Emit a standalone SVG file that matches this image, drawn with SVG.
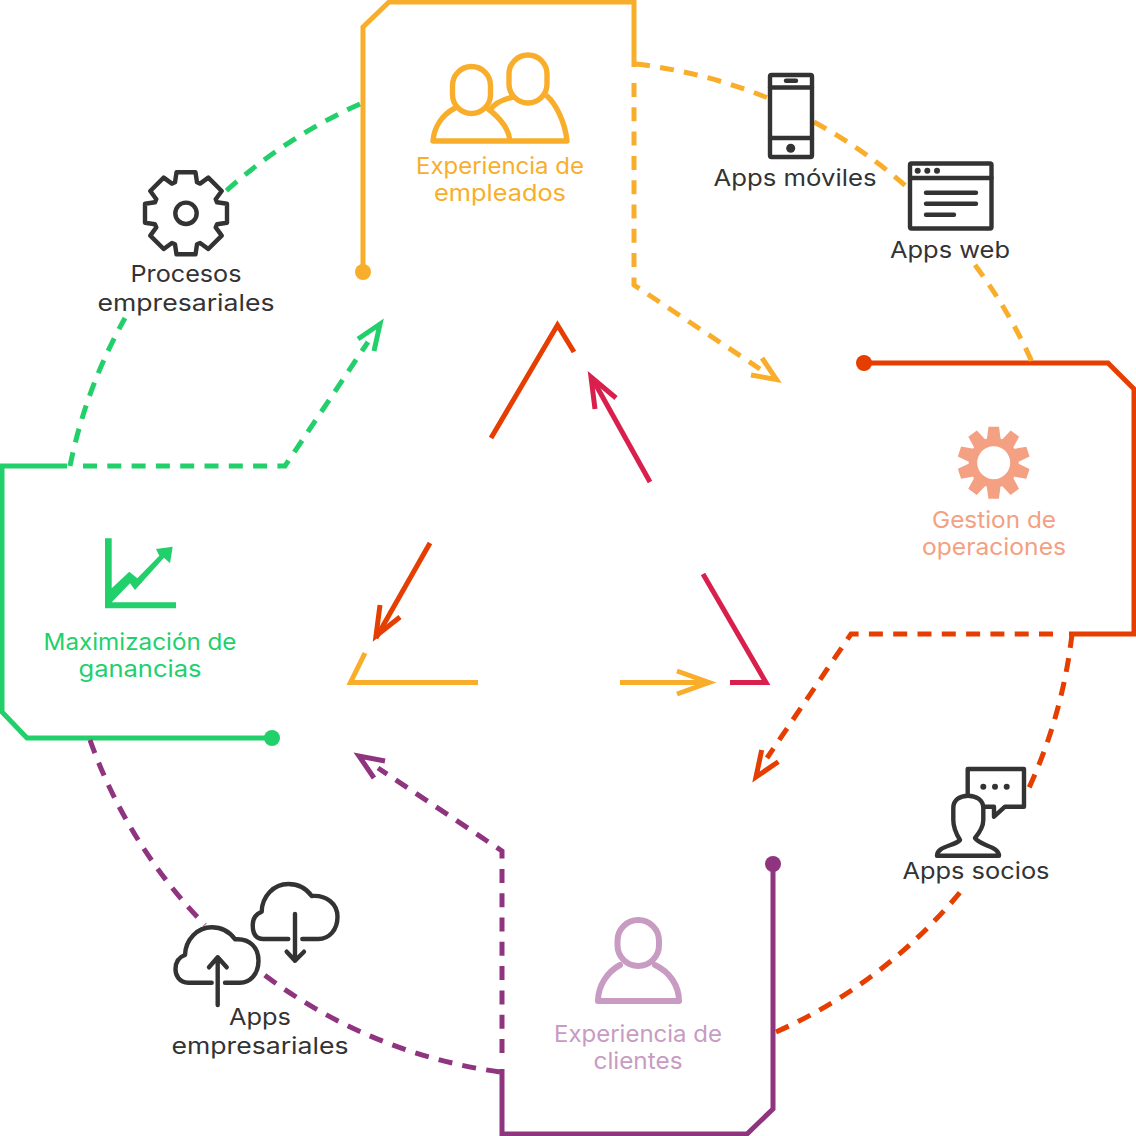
<svg xmlns="http://www.w3.org/2000/svg" xmlns:xlink="http://www.w3.org/1999/xlink" width="1136" height="1136" viewBox="0 0 1136 1136">
<style>
text{font-family:"Inter","Liberation Sans",sans-serif;font-size:23px;text-anchor:middle}
.k{fill:#333}
.l{fill:none;stroke-width:5;stroke-linejoin:miter;stroke-miterlimit:10}
.d{stroke-dasharray:14 10.300}
.o{stroke:#F9AE2B}.r{stroke:#E63E00}.g{stroke:#22D06B}.p{stroke:#8F347F}.c{stroke:#D9204D}
.i{fill:#fff;stroke:#333;stroke-width:4.400;stroke-linejoin:round;stroke-linecap:round}
.n{fill:none}
.oi{fill:none;stroke:#F9AE2B;stroke-width:5.400;stroke-linejoin:round;stroke-linecap:round}
.pi{fill:none;stroke:#C79BC2;stroke-width:6;stroke-linejoin:round;stroke-linecap:round}
</style>
<g id="connectors">
<path class="l o" d="M363 272V27L389 2H634V67"/>
<path class="l o d" d="M634 83V285L760 369"/>
<path class="l o" d="M762 358L776.500 379.500L751 375"/>
<circle cx="363" cy="272" r="8" fill="#F9AE2B"/>
<path class="l r" d="M864 363H1108L1134 389V634H1069"/>
<path class="l r d" d="M1053 634H851L767 758"/>
<path class="l r" d="M778.300 761.700L756 777L761.700 750"/>
<circle cx="864" cy="363" r="8" fill="#E63E00"/>
<path class="l p" d="M773 864V1109L747 1134H502V1069"/>
<path class="l p d" d="M502 1053V851L378 768"/>
<path class="l p" d="M374 778L359 756L385 761"/>
<circle cx="773" cy="864" r="8" fill="#8F347F"/>
<path class="l g" d="M272 738H27L2 712V466H67"/>
<path class="l g d" d="M83 466H285L368 342"/>
<path class="l g" d="M358 339L380 324L374 351"/>
<circle cx="272" cy="738" r="8" fill="#22D06B"/>
<path class="l o d" d="M636 64A508 508 0 0 1 768 98"/>
<path class="l o d" d="M814 122A508 508 0 0 1 908 188"/>
<path class="l o d" d="M975 265A508 508 0 0 1 1032 362"/>
<path class="l g d" d="M360 104A508 508 0 0 0 225 192"/>
<path class="l g d" d="M70 466A508 508 0 0 1 125 318"/>
<path class="l r d" d="M1072 634A508 508 0 0 1 1028 790"/>
<path class="l r d" d="M776 1032A508 508 0 0 0 966 885"/>
<path class="l p d" d="M90 740A508 508 0 0 0 205 925"/>
<path class="l p d" d="M500 1072A508 508 0 0 1 258 970"/>
<path class="l r" d="M491 438L557.500 325L574 352"/>
<path class="l r" d="M430 543L376 638"/>
<path class="l r" d="M380 605L376 636L400 617"/>
<path class="l o" d="M365 653L350.500 682.500H478"/>
<path class="l o" d="M620 682.500H710"/>
<path class="l o" d="M677 671L709 682.500L677 694"/>
<path class="l c" d="M730 682.500H766L703 574"/>
<path class="l c" d="M650 482L592 378"/>
<path class="l c" d="M595 409L591 377L616 398"/>
</g>
<g id="experiencia-empleados">
<path class="oi" d="M487 108C499 117 509 128 510 141H433C434 127 442 115 455 108M490 110C494 104 500 100 513 97M547 96C556 104 565 122 567 141H510"/>
<rect class="oi" x="452.500" y="66.500" width="38" height="47" rx="19"/>
<rect class="oi" x="509" y="55" width="38" height="48" rx="19"/>
<text x="500" y="173.500" fill="#F9AE2B" textLength="168" lengthAdjust="spacingAndGlyphs">Experiencia de</text>
<text x="500" y="201" fill="#F9AE2B" textLength="132" lengthAdjust="spacingAndGlyphs">empleados</text>
</g>
<g id="apps-moviles">
<rect class="i" x="770" y="75" width="42" height="82" rx="1.500"/>
<path class="i n" d="M770 87.500H812M770 138H812"/>
<path class="i n" d="M786 80.700H796"/>
<circle cx="790.700" cy="148.300" r="4.500" class="k"/>
<text class="k" x="795" y="186" textLength="163" lengthAdjust="spacingAndGlyphs">Apps móviles</text>
</g>
<g id="apps-web">
<rect class="i" x="910" y="163.500" width="81.500" height="65" rx="1.500"/>
<path class="i n" d="M910 178H991.500M926 192.700H976M926 203.700H976M926 214.700H954"/>
<circle cx="917.700" cy="170.700" r="3" class="k"/><circle cx="927.300" cy="170.700" r="3" class="k"/><circle cx="937" cy="170.700" r="3" class="k"/>
<text class="k" x="950" y="258" textLength="120" lengthAdjust="spacingAndGlyphs">Apps web</text>
</g>
<g id="gestion-operaciones">
<g fill="#F4A082">
<circle cx="993.700" cy="462.700" r="25"/>
<path id="t" d="M988.500 426.700H999L1001 442H986.500Z"/>
<use xlink:href="#t" href="#t" transform="rotate(36 993.700 462.700)"/>
<use xlink:href="#t" href="#t" transform="rotate(72 993.700 462.700)"/>
<use xlink:href="#t" href="#t" transform="rotate(108 993.700 462.700)"/>
<use xlink:href="#t" href="#t" transform="rotate(144 993.700 462.700)"/>
<use xlink:href="#t" href="#t" transform="rotate(180 993.700 462.700)"/>
<use xlink:href="#t" href="#t" transform="rotate(216 993.700 462.700)"/>
<use xlink:href="#t" href="#t" transform="rotate(252 993.700 462.700)"/>
<use xlink:href="#t" href="#t" transform="rotate(288 993.700 462.700)"/>
<use xlink:href="#t" href="#t" transform="rotate(324 993.700 462.700)"/>
</g>
<circle cx="993.700" cy="462.700" r="16.500" fill="#fff"/>
<text x="994" y="528" fill="#F4A082" textLength="124" lengthAdjust="spacingAndGlyphs">Gestion de</text>
<text x="994" y="555" fill="#F4A082" textLength="144" lengthAdjust="spacingAndGlyphs">operaciones</text>
</g>
<g id="apps-socios">
<path class="i" d="M967.700 793.300V769H1024V806.700H1005L994 816.700V806.700H983"/>
<circle cx="983.300" cy="786.700" r="3" class="k"/><circle cx="995" cy="786.700" r="3" class="k"/><circle cx="1006.700" cy="786.700" r="3" class="k"/>
<path class="i" d="M937 855.700C937 846 955 846 960 840C955 832 953.300 826 953.300 820V808C953.300 800 960 795.700 968 795.700C976 795.700 983.300 800 983.300 808V820C983.300 826 980 832 975 838C980 846 999 846 999 855.700Z"/>
<text class="k" x="976" y="879" textLength="147" lengthAdjust="spacingAndGlyphs">Apps socios</text>
</g>
<g id="experiencia-clientes">
<path class="pi" d="M620 965C607 972 598 986 598 1001H679C679 986 670 972 655 965"/>
<rect class="pi" x="617.500" y="920" width="41.500" height="46" rx="20.700"/>
<text x="638" y="1041.500" fill="#C79BC2" textLength="168" lengthAdjust="spacingAndGlyphs">Experiencia de</text>
<text x="638" y="1069" fill="#C79BC2" textLength="89" lengthAdjust="spacingAndGlyphs">clientes</text>
</g>
<g id="apps-empresariales">
<path class="i" d="M288.300 939H263.300C254 939 252.700 931 252.700 925C252.700 918 256 914 261.700 911.700C262 896 274 884 288.300 884C298 884 306 888 311.700 896C327 895 337.500 904 337.500 916.700C337.500 930 329 939 318.300 939H302.300"/>
<path class="i n" d="M295 914V960.700M286.700 951.700L295 960.700L304 951.700"/>
<path class="i" d="M211.700 982.700H188.300C179 982.700 175.500 975 175.500 969.300C175.500 962 179 957 185 955C185.500 940 197 927.300 211.700 927.300C221 927.300 229 931 235 939.300C250 938 258.500 948 258.500 960.700C258.500 974 250 982.700 240 982.700H225"/>
<path class="i n" d="M217.700 1005V957.300M209 967.300L217.700 957.300L226.700 967.300"/>
<text class="k" x="260" y="1025" textLength="62" lengthAdjust="spacingAndGlyphs">Apps</text>
<text class="k" x="260" y="1054" textLength="177" lengthAdjust="spacingAndGlyphs">empresariales</text>
</g>
<g id="maximizacion-ganancias">
<path fill="#22D06B" d="M105 538.300H111.700V602.300H176V608.300H105ZM111.700 588.300L129.300 571.700L137.300 578.300L159.300 555.700L156 549L172.700 546.700L170 563.300L164 557.700L135 590L130 583.300L111.700 602.300Z"/>
<text x="140" y="650" fill="#22D06B" textLength="193" lengthAdjust="spacingAndGlyphs">Maximización de</text>
<text x="140" y="677" fill="#22D06B" textLength="123" lengthAdjust="spacingAndGlyphs">ganancias</text>
</g>
<g id="procesos-empresariales">
<polygon class="i" transform="translate(186 213.300)" points="-11,-31 -9.500,-41 9.500,-41 11,-31 14.100,-29.700 22.300,-35.700 35.700,-22.300 29.700,-14.100 31,-11 41,-9.500 41,9.500 31,11 29.700,14.100 35.700,22.300 22.300,35.700 14.100,29.700 11,31 9.500,41 -9.500,41 -11,31 -14.100,29.700 -22.300,35.700 -35.700,22.300 -29.700,14.100 -31,11 -41,9.500 -41,-9.500 -31,-11 -29.700,-14.100 -35.700,-22.300 -22.300,-35.700 -14.100,-29.700"/>
<circle class="i" cx="186" cy="213.300" r="10.700"/>
<text class="k" x="186" y="282" textLength="111" lengthAdjust="spacingAndGlyphs">Procesos</text>
<text class="k" x="186" y="311" textLength="177" lengthAdjust="spacingAndGlyphs">empresariales</text>
</g>
</svg>
